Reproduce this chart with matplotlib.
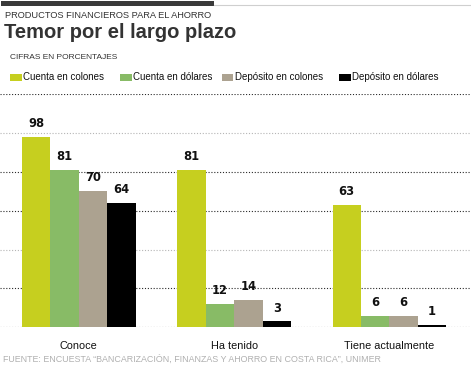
import matplotlib
matplotlib.use("Agg")
import matplotlib.pyplot as plt
import matplotlib.patches as mpatches
from matplotlib.lines import Line2D
import numpy as np

categories = ["Conoce", "Ha tenido", "Tiene actualmente"]
series_names = ["Cuenta en colones", "Cuenta en dólares", "Depósito en colones", "Depósito en dólares"]
values = {
    "Cuenta en colones": [98, 81, 63],
    "Cuenta en dólares": [81, 12, 6],
    "Depósito en colones": [70, 14, 6],
    "Depósito en dólares": [64, 3, 1],
}
colors = ["#c6cf1f", "#88bb66", "#aca290", "#000000"]
yticks = [0, 20, 40, 60, 80, 100, 120]

NARROW = ["Liberation Sans Narrow", "Liberation Sans", "DejaVu Sans"]
REG = ["Liberation Sans", "DejaVu Sans"]

W, H = 471, 372
fig = plt.figure(figsize=(W / 100, H / 100), dpi=100)
fig.patch.set_facecolor("white")

def fx(px):
    return px / W

def fy(py):
    return 1 - py / H

# header rules
fig.add_artist(mpatches.Rectangle((fx(1), fy(5.5)), fx(213), 4.5 / H, transform=fig.transFigure,
                                  color="#3a3a3a", lw=0))
fig.add_artist(Line2D([fx(214), fx(471)], [fy(5), fy(5)], transform=fig.transFigure,
                      color="#cfcfcf", lw=0.8))

fig.text(fx(5), fy(15), "PRODUCTOS FINANCIEROS PARA EL AHORRO", family=NARROW, fontsize=6.7,
         color="#333333", va="center", ha="left")
fig.text(fx(4.5), fy(33), "Temor por el largo plazo", family=REG, fontsize=14.5, fontweight="bold",
         color="#333333", va="center", ha="left")
fig.text(fx(10), fy(57.7), "CIFRAS EN PORCENTAJES", family=NARROW, fontsize=6.0,
         color="#333333", va="center", ha="left")

# legend
leg_x = [10, 120, 221.7, 339]
for lx, name, c in zip(leg_x, series_names, colors):
    fig.add_artist(mpatches.Rectangle((fx(lx), fy(80.5)), fx(11.5), 7 / H, transform=fig.transFigure,
                                      color=c, lw=0))
    fig.text(fx(lx + 13), fy(76.7), name, family=NARROW, fontsize=7.0, color="#111111",
             va="center", ha="left")

# axes
base_px, top_px = 327.3, 94.0
ax = fig.add_axes([0, 1 - base_px / H, 470 / W, (base_px - top_px) / H])
bar_px = 28.4
group_px = 155.3
start_px = 22.0
ax.set_xlim(0, 470 / bar_px)
ax.set_ylim(0, 120)

n = len(series_names)
group_left = start_px / bar_px + np.arange(len(categories)) * (group_px / bar_px)
for j, (name, c) in enumerate(zip(series_names, colors)):
    xs = group_left + j + 0.5
    vals = values[name]
    ax.bar(xs, vals, width=1.0, color=c, lw=0, zorder=3)
    for x, v in zip(xs, vals):
        ax.annotate(str(v), (x, v), xytext=(0, 5.0), textcoords="offset points",
                    ha="center", va="bottom", fontsize=8.3, fontweight="bold",
                    family=["DejaVu Sans"], color="#111111", zorder=4)

for t in yticks:
    light = t in (40, 100)
    ax.axhline(t, color="#b5b5b5" if light else "#2a2a2a", lw=0.8,
               ls=(0, (1, 1.6)), zorder=1)

for s in ax.spines.values():
    s.set_visible(False)
ax.set_yticks([])
centers = group_left + n / 2
ax.set_xticks(centers)
ax.set_xticklabels(categories, family=NARROW, fontsize=7.8, color="#111111")
ax.tick_params(axis="x", length=0, pad=10)
ax.patch.set_alpha(0)

fig.text(fx(3), fy(359), "FUENTE: ENCUESTA \u201cBANCARIZACIÓN, FINANZAS Y AHORRO EN COSTA RICA\u201d, UNIMER",
         family=NARROW, fontsize=6.4, color="#b0b0b0", va="center", ha="left")

fig.savefig("out.png", dpi=100, facecolor="white")
